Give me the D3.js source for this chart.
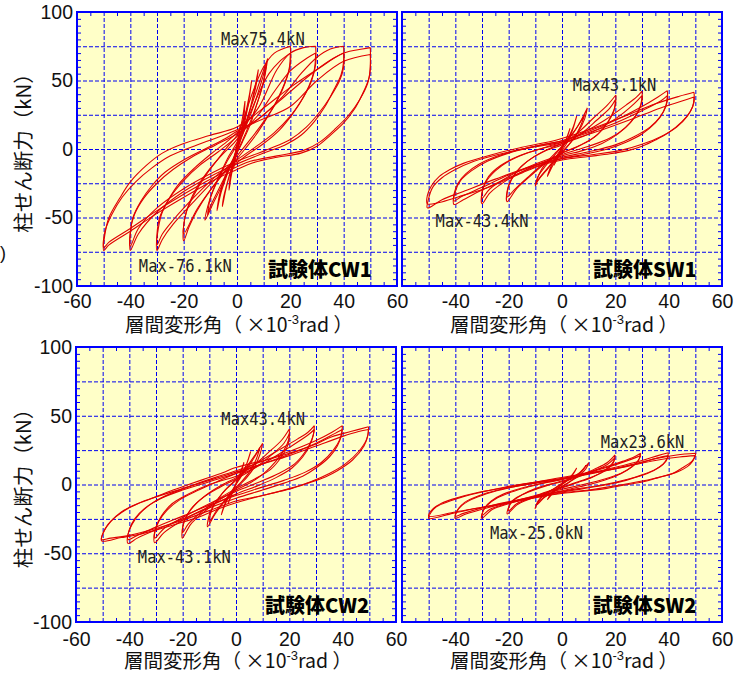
<!DOCTYPE html>
<html><head><meta charset="utf-8">
<script src="https://cdn.jsdelivr.net/npm/d3@7/dist/d3.min.js"></script>
<style>body{margin:0;background:#fff}</style>
</head><body>
<svg id="chart" width="748" height="674"></svg>
<script>
// Specimen names and peak labels
const panelNames = ["試験体CW1", "試験体SW1", "試験体CW2", "試験体SW2"];
const maxLabels = ["Max75.4kN", "Max43.1kN", "Max43.4kN", "Max23.6kN"];
const minLabels = ["Max-76.1kN", "Max-43.4kN", "Max-43.1kN", "Max-25.0kN"];

// Axis ticks
const xTickVals = [-60, -40, -20, 0, 20, 40, 60];
const yTickVals = [-100, -50, 0, 50, 100];
const xGridVals = [-50, -40, -30, -20, -10, 0, 10, 20, 30, 40, 50];
const yGridVals = [-75, -50, -25, 0, 25, 50, 75];
const xMinorVals = [-55, -45, -35, -25, -15, -5, 5, 15, 25, 35, 45, 55];
const yMinorVals = [-95, -90, -85, -80, -70, -65, -60, -55, -45, -40, -35, -30, -20, -15, -10, -5,
                    5, 10, 15, 20, 30, 35, 40, 45, 55, 60, 65, 70, 80, 85, 90, 95];

// Hysteresis loops: [drift angle (x10^-3 rad), shear (kN)]
const cw1Loops = [
  [[50,74],[50,62],[49.5,52],[47,40],[44,29],[40,19],[35,10],[30,2],[24,-3],[15,-6],[6,-10],[0,-15],[-8,-22],[-18,-33],[-30,-47],[-40,-60],[-48,-70],[-50,-74],
   [-49.5,-62],[-48,-50],[-44,-36],[-40,-24],[-34,-12],[-28,-3],[-20,4],[-10,10],[0,16],[10,30],[20,45],[30,58],[40,70],[47,73],[50,74]],
  [[50,69],[50,58],[49,48],[46,36],[42,25],[37,15],[31,5],[25,-1],[15,-5],[5,-9],[0,-13],[-10,-22],[-20,-33],[-30,-45],[-40,-58],[-48,-68],[-50,-72],
   [-49.5,-60],[-47,-48],[-43,-35],[-38,-24],[-32,-14],[-25,-5],[-15,3],[-5,10],[0,14],[10,22],[20,31],[30,50],[40,64],[50,69]],
  [[40,75],[40,64],[39,54],[36,42],[33,31],[29,20],[24,10],[18,3],[10,-3],[0,-11],[-10,-20],[-20,-31],[-30,-46],[-37,-62],[-40,-74],
   [-40,-62],[-39,-50],[-36,-38],[-32,-27],[-27,-17],[-20,-8],[-12,0],[-4,8],[0,13],[8,22],[17,38],[24,55],[30,67],[35,73],[40,75]],
  [[40,70],[40,60],[38.5,50],[35,38],[31,27],[26,16],[20,7],[12,0],[0,-9],[-10,-18],[-20,-29],[-30,-43],[-37,-58],[-40,-71],
   [-40,-60],[-38.5,-48],[-35,-36],[-30,-25],[-24,-15],[-17,-6],[-8,3],[0,11],[10,25],[20,42],[30,58],[36,66],[40,70]],
  [[29.5,75],[29.5,62],[28,50],[25,38],[21,26],[16,14],[10,4],[4,-4],[0,-10],[-8,-22],[-16,-38],[-24,-55],[-28,-66],[-30,-74],
   [-30,-62],[-29,-50],[-26,-38],[-22,-26],[-16,-14],[-10,-4],[-4,5],[0,12],[8,30],[15,58],[20,70],[25,74],[29.5,75]],
  [[29.5,70],[29,58],[27,46],[24,35],[20,24],[14,12],[8,3],[0,-8],[-8,-20],[-16,-35],[-24,-52],[-28,-62],[-30,-70],
   [-29.5,-58],[-28,-46],[-25,-35],[-20,-23],[-14,-12],[-7,-2],[0,9],[8,25],[14,42],[20,57],[26,66],[29.5,70]],
  [[20,75],[20,62],[18,48],[15,35],[11,22],[7,10],[3,0],[0,-7],[-5,-18],[-10,-30],[-15,-45],[-18,-57],[-20,-67],
   [-20,-56],[-19,-46],[-16,-33],[-12,-20],[-7,-7],[-3,3],[0,10],[3,25],[6,42],[10,60],[14,70],[20,75]],
  [[20,70],[19.5,58],[17,44],[14,32],[10,20],[5,7],[0,-5],[-5,-17],[-10,-30],[-15,-44],[-20,-62],
   [-19.5,-50],[-18,-40],[-15,-28],[-10,-14],[-5,-3],[0,7],[4,22],[8,40],[12,55],[16,64],[20,70]],
  [[11.5,66],[10.5,54],[9,42],[7,30],[5,18],[2,5],[0,-3],[-3,-15],[-6,-28],[-9,-40],[-12,-52],
   [-11,-42],[-9,-30],[-6,-17],[-3,-5],[0,5],[3,18],[6,35],[9,52],[11.5,66]],
  [[11,62],[10,50],[8,36],[5,20],[2,6],[0,-2],[-3,-14],[-7,-30],[-10,-42],[-11,-48],
   [-10,-36],[-7,-22],[-4,-10],[0,3],[3,15],[6,30],[9,48],[11,62]],
  [[8,58],[7,45],[5,30],[3,15],[0,0],[-3,-15],[-6,-32],[-7.5,-45],[-6.5,-33],[-4,-18],[-1,-5],[2,10],[5,30],[8,58]],
  [[5.5,50],[4.5,38],[3,24],[1,8],[-1,-6],[-3,-20],[-5,-35],[-5.5,-42],[-4,-28],[-2,-14],[0,-2],[2,12],[4,30],[5.5,50]],
  [[3,35],[2,22],[0.5,8],[-1,-6],[-2.5,-20],[-3,-30],[-2,-18],[-0.5,-6],[1,8],[2.5,22],[3,35]],
  [[1.2,18],[0.5,8],[-0.5,-4],[-1.2,-14],[-0.5,-5],[0.5,6],[1.2,18]]
];

const sw1Loops = [
  [[49.5,41.4],[49.5,34],[48,27],[45,20],[40,12],[35,6.5],[30,2],[25,-1],[18,-3.5],[10,-5.5],[0,-8],[-8,-12],[-15,-17.5],[-27,-27.5],[-39,-35],[-46,-39],[-50.5,-40],
   [-50.5,-34],[-49,-27],[-46,-20],[-42,-15],[-37,-10.5],[-27,-4.5],[-15,1.3],[-2,6.6],[10,14],[23,23.6],[35,33],[44,38.5],[49.5,41.4]],
  [[49.5,38],[49,31],[47,24],[43,16],[37,9],[30,3.5],[22,-1],[12,-4],[0,-7],[-12,-13],[-25,-22],[-37,-31],[-45,-37],[-50.5,-43],
   [-50,-36],[-48.5,-28],[-45,-21],[-40,-15],[-33,-9],[-24,-4],[-12,1],[0,5],[12,12],[25,21],[37,30],[45,35],[49.5,38]],
  [[39.5,42.6],[39.5,35],[38,27],[35,19],[30,11],[24,5],[17,0],[8,-4],[0,-7],[-10,-13],[-20,-21],[-30,-30],[-37,-37],[-40.5,-40.5],
   [-40.5,-33],[-39,-25],[-36,-18],[-31,-11],[-24,-5],[-15,0],[-5,4],[0,6],[10,13],[20,21],[30,31],[36,38],[39.5,42.6]],
  [[39.5,39],[39,32],[37,24],[33,16],[27,9],[20,3],[10,-2],[0,-6],[-10,-12],[-20,-19],[-30,-28],[-38,-35],[-40.5,-38],
   [-40,-31],[-38,-23],[-34,-16],[-28,-9],[-20,-3],[-10,2],[0,6],[10,12],[20,19],[30,28],[37,35],[39.5,39]],
  [[30,42.3],[30,35],[28.5,27],[25.5,19],[21,11],[15,4],[8,-1],[0,-5],[-10,-12],[-20,-22],[-27,-32],[-30,-40],
   [-30,-32],[-28.5,-24],[-25,-16],[-20,-9],[-13,-3],[-5,2],[0,5],[8,12],[16,21],[24,32],[28,38],[30,42.3]],
  [[30,39],[29.5,32],[27.5,24],[24,16],[18,8],[10,2],[0,-4],[-10,-11],[-20,-20],[-27,-29],[-30,-36],
   [-29.5,-28],[-27.5,-20],[-23,-12],[-16,-5],[-8,0],[0,4],[10,11],[20,22],[27,33],[30,39]],
  [[20.2,39.4],[20,32],[18.5,24],[15.5,15],[11,7],[5,1],[0,-3],[-6,-10],[-12,-20],[-17,-29],[-20.6,-38.5],
   [-20.5,-30],[-19,-22],[-15.5,-13],[-10,-5],[-4,1],[0,4],[6,12],[12,23],[17,32],[20.2,39.4]],
  [[20,36],[19.5,28],[17,19],[13,10],[7,3],[0,-3],[-7,-11],[-13,-21],[-18,-30],[-20.5,-35],
   [-20,-27],[-17.5,-18],[-13,-9],[-7,-2],[0,3],[7,11],[13,21],[18,30],[20,36]],
  [[9.5,30],[8.5,22],[6,12],[3,4],[0,-3],[-3,-9],[-6,-16],[-9,-23],[-10,-27],[-9,-20],[-6,-12],[-3,-5],[0,2],[3,9],[6,17],[9.5,30]],
  [[8.5,25],[7,17],[4.5,8],[1.5,1],[-1.5,-5],[-5,-13],[-8,-20],[-9.5,-24],[-8,-16],[-5,-8],[-2,-2],[1,4],[4,11],[8.5,25]],
  [[5.5,24],[4,14],[2,5],[0,-1],[-2,-7],[-4,-14],[-5.5,-20],[-4,-12],[-2,-5],[0,1],[2,7],[4,15],[5.5,24]],
  [[3,15],[1.5,7],[0,1],[-1.5,-5],[-3,-12],[-1.5,-6],[0,0],[1.5,6],[3,15]]
];

const cw2Loops = [
  [[49.7,42],[49.5,36],[48,28],[43.7,17.8],[38,10],[33.7,5.7],[27,1],[21,-2.8],[13,-6.5],[6,-10],[0,-13.3],[-7,-18],[-13.6,-23.4],[-22,-28.5],[-29.8,-33],[-37,-36.5],[-43,-38.6],[-50.4,-41],
   [-50,-36],[-48,-29],[-45,-23.4],[-41,-18],[-36.4,-13.7],[-30,-9],[-23.6,-4],[-17,0.5],[-11,4.5],[-5,8.5],[-1,11.8],[5,15],[11.4,17.8],[17,21],[23.8,25],[30,29.5],[36,34.8],[43,38.5],[49.7,42]],
  [[49.7,40],[49,33],[46,24],[41,15],[35,8],[28,2],[20,-3],[10,-8],[0,-12],[-10,-19],[-20,-26],[-30,-32],[-40,-37],[-47,-39],[-50.4,-40],
   [-49.5,-34],[-47,-27],[-43,-20],[-37,-14],[-30,-9],[-20,-3],[-10,3],[0,9],[10,15],[20,21],[30,28],[40,35],[46,38.5],[49.7,40]],
  [[39.9,42.8],[39.5,36],[38,28],[35,20],[30,12],[25,6],[18,1],[10,-4],[0,-10],[-10,-17],[-20,-25],[-30,-33],[-37,-39],[-40.5,-42.8],
   [-40.5,-36],[-39,-29],[-36,-21],[-31,-13],[-25,-7],[-17,-1],[-8,5],[0,10],[10,17],[20,24],[30,32],[36,38],[39.9,42.8]],
  [[39.9,40],[39,33],[36.5,25],[32,16],[26,9],[18,3],[8,-3],[0,-8],[-10,-15],[-20,-23],[-30,-31],[-37,-37],[-40.5,-40],
   [-40,-33],[-38,-25],[-34,-17],[-28,-10],[-20,-4],[-10,2],[0,8],[10,15],[20,22],[30,30],[37,37],[39.9,40]],
  [[29.4,42.8],[29,36],[27.5,28],[25,20],[21,12],[15,5],[8,-1],[0,-7],[-10,-16],[-20,-26],[-27,-35],[-30.5,-42.3],
   [-30.5,-35],[-29,-27],[-26,-19],[-21,-11],[-14,-4],[-6,3],[0,8],[8,16],[16,25],[23,33],[27,38],[29.4,42.8]],
  [[29.4,40],[28.5,33],[26,24],[22,15],[16,8],[9,2],[0,-5],[-10,-14],[-20,-24],[-27,-32],[-30.5,-39],
   [-30,-31],[-28,-23],[-24,-14],[-18,-7],[-10,0],[0,6],[10,15],[20,27],[27,36],[29.4,40]],
  [[20,40.4],[19.8,33],[18,25],[15,17],[11,9],[6,2],[0,-4],[-6,-11],[-12,-20],[-17,-29],[-20.1,-39],
   [-20,-31],[-18.5,-23],[-15,-14],[-10,-6],[-4,1],[0,5],[6,13],[12,23],[17,32],[20,40.4]],
  [[20,37],[19.5,29],[17,20],[13,11],[7,4],[0,-3],[-7,-11],[-13,-20],[-18,-29],[-20,-35],
   [-19.5,-27],[-17,-18],[-12,-9],[-6,-2],[0,4],[7,12],[13,21],[18,30],[20,37]],
  [[10,30],[9,22],[7,13],[4,5],[1,-1],[-2,-7],[-5,-14],[-8,-22],[-10.7,-30.7],[-10,-22],[-8,-14],[-5,-6],[-2,0],[1,6],[4,13],[7,21],[10,30]],
  [[9,27],[7.5,18],[5,9],[2,2],[-1,-4],[-4,-11],[-7,-18],[-10,-27],[-9,-18],[-6.5,-10],[-3.5,-3],[0,3],[3,9],[6,17],[9,27]],
  [[5.5,24],[4,15],[2,6],[0,0],[-2,-7],[-4,-14],[-5.5,-22],[-4,-13],[-2,-6],[0,0],[2,7],[4,15],[5.5,24]],
  [[3,16],[1.5,8],[0,1],[-1.5,-6],[-3,-14],[-1.5,-7],[0,0],[1.5,7],[3,16]]
];

const sw2Loops = [
  [[50.2,22.7],[49.5,19],[48.6,16.6],[45,12],[41.7,8.2],[36,5],[30.5,2],[23,-0.5],[16.8,-2.8],[8,-4.8],[0.5,-6.4],[-7,-8.5],[-14.5,-11.3],[-23,-14.5],[-32,-17.3],[-41,-21],[-50,-24.6],
   [-49,-20],[-47,-16],[-42,-12],[-37,-8.8],[-29,-5],[-20.8,-1.6],[-11,1.5],[-2,4.5],[7,7.5],[16.8,10.5],[26,14.5],[35.5,19],[43,21.5],[50.2,22.7]],
  [[50,21],[49,17],[47,13],[43,9],[37,5.5],[30,2.5],[20,-1],[10,-4],[0,-6],[-10,-9.5],[-20,-13],[-30,-16.5],[-40,-20],[-50,-23],
   [-48.5,-18],[-45,-13.5],[-40,-10],[-32,-6],[-22,-2.5],[-12,1],[0,4.5],[12,8.5],[24,13],[35,17.5],[44,20],[50,21]],
  [[39.9,23.1],[39.5,19.5],[38,15],[35,11],[30,7],[24,3],[17,0],[8,-3],[0,-5.5],[-10,-9],[-20,-13],[-30,-18],[-36,-21.5],[-40.1,-24.6],
   [-39.5,-20],[-38,-16],[-34,-11],[-28,-6.5],[-20,-2.5],[-10,1],[0,4],[10,8],[20,12.5],[30,17.5],[36,21],[39.9,23.1]],
  [[39.9,21],[39,17],[36.5,12.5],[32,8],[25,4],[16,0],[6,-3],[0,-5],[-10,-8.5],[-20,-12.5],[-30,-17],[-37,-21],[-40,-23],
   [-39,-18],[-36.5,-13],[-31,-8],[-24,-4],[-15,-0.5],[-5,2.5],[0,4],[10,7.5],[20,11.5],[30,16],[37,20],[39.9,21]],
  [[29.5,22.7],[29,19],[27.5,15],[24.5,10.5],[20,6],[14,2],[7,-1.5],[0,-4.5],[-10,-9],[-20,-14],[-26,-18],[-30.1,-24.6],
   [-29.5,-19],[-28,-15],[-24.5,-10],[-19,-5.5],[-12,-1.5],[-5,2],[0,4],[8,8],[16,12.5],[23,17],[27,20],[29.5,22.7]],
  [[29.5,21],[28.5,17],[26,12.5],[22,8],[16,4],[8,0],[0,-3.5],[-10,-8],[-20,-13.5],[-27,-18],[-30,-22.5],
   [-29,-17],[-26.5,-12],[-22,-7],[-15,-2.5],[-7,1],[0,3.5],[8,7.5],[16,12],[24,17],[29.5,21]],
  [[19.9,21.5],[19.5,17.5],[18,13.5],[15,9],[11,5],[6,1.5],[0,-2.5],[-6,-6],[-12,-10.5],[-17,-15],[-20.5,-21.5],
   [-20,-16.5],[-18.5,-12],[-15,-7.5],[-10,-3],[-4,0.5],[0,2.5],[6,6],[12,11],[17,16],[19.9,21.5]],
  [[19.9,19.5],[19,15],[16.5,10.5],[12,6],[6,2],[0,-2],[-6,-5.5],[-12,-10],[-17,-14],[-20,-19],
   [-19.5,-14],[-17,-9.5],[-12,-5],[-6,-1],[0,2],[6,5.5],[12,10],[17,14.5],[19.9,19.5]],
  [[10.1,15.9],[9,11.5],[6.5,6.5],[3,2],[0,-1.5],[-3,-5],[-6.5,-9],[-9,-13],[-10.1,-17.5],[-9,-12],[-6.5,-7],[-3,-3],[0,1],[3,4.5],[6.5,8.5],[10.1,15.9]],
  [[9,14],[7.5,9.5],[5,5],[2,1],[-1,-2.5],[-4,-6],[-7,-10],[-9.5,-15],[-8,-10],[-5,-5.5],[-2,-2],[1,1.5],[4,5],[7,9],[9,14]],
  [[5.5,12],[4,7.5],[2,3],[0,0],[-2,-3.5],[-4,-7.5],[-5.5,-11],[-4,-6.5],[-2,-3],[0,0],[2,3.5],[4,7],[5.5,12]]
];

const allLoops = [cw1Loops, sw1Loops, cw2Loops, sw2Loops];

// Layout
const PW = 320;
const layout = [
  {x0: 77,  y0: 12,  h: 274, yLabels: true,  xFrom: -60, pad: 8,  titleOff: 46},
  {x0: 402, y0: 12,  h: 274, yLabels: false, xFrom: -40, pad: 8,  titleOff: 46},
  {x0: 76,  y0: 347, h: 275, yLabels: true,  xFrom: -60, pad: 10, titleOff: 46},
  {x0: 402, y0: 347, h: 275, yLabels: false, xFrom: -40, pad: 10, titleOff: 46}
];
// label anchors in data units
const maxPos = [[-6, 76], [4, 42.3], [-5.5, 43.3], [14.5, 26.5]];
const minPos = [[-36.8, -89.8], [-47.4, -57], [-36.8, -57], [-27, -39.6]];
const namePos = [[11.6, -93.4], [11.6, -93.4], [10.9, -93.5], [11.5, -93.5]];

const svg = d3.select("#chart");
const BLUE = "#0000f0";
const sans = "'Liberation Sans', Arial, sans-serif";
const jp = "'Noto Sans CJK JP', sans-serif";

layout.forEach((p, i) => {
  const x = d3.scaleLinear().domain([-60, 60]).range([p.x0, p.x0 + PW]);
  const y = d3.scaleLinear().domain([-100, 100]).range([p.y0 + p.h, p.y0]);
  const g = svg.append("g");

  g.append("rect")
    .attr("x", p.x0).attr("y", p.y0).attr("width", PW).attr("height", p.h)
    .attr("fill", "#ffffc8");

  // dashed grid
  g.append("g")
    .attr("transform", `translate(0,${p.y0 + p.h})`)
    .call(d3.axisBottom(x).tickValues(xGridVals).tickSize(-p.h).tickFormat(""))
    .call(a => a.select(".domain").remove());
  g.append("g")
    .attr("transform", `translate(${p.x0},0)`)
    .call(d3.axisLeft(y).tickValues(yGridVals).tickSize(-PW).tickFormat(""))
    .call(a => a.select(".domain").remove());
  g.selectAll(".tick line")
    .attr("stroke", BLUE).attr("stroke-width", 1).attr("stroke-dasharray", "4,2");

  // minor inner ticks on all sides
  const mt = 4;
  const minor = [
    [d3.axisBottom(x).tickValues(xMinorVals), `translate(0,${p.y0 + p.h})`],
    [d3.axisTop(x).tickValues(xMinorVals), `translate(0,${p.y0})`],
    [d3.axisLeft(y).tickValues(yMinorVals), `translate(${p.x0},0)`],
    [d3.axisRight(y).tickValues(yMinorVals), `translate(${p.x0 + PW},0)`]
  ];
  minor.forEach(([ax, tr]) => {
    g.append("g").attr("transform", tr)
      .call(ax.tickSize(-mt).tickFormat(""))
      .call(a => a.select(".domain").remove())
      .selectAll("line").attr("stroke", BLUE).attr("stroke-width", 1);
  });

  // curves
  const clipId = "clip" + i;
  svg.append("clipPath").attr("id", clipId).append("rect")
    .attr("x", p.x0).attr("y", p.y0).attr("width", PW).attr("height", p.h);
  const line = d3.line()
    .x(d => x(d[0])).y(d => y(d[1]))
    .curve(d3.curveCatmullRom.alpha(0.5));
  g.append("g").attr("clip-path", `url(#${clipId})`)
    .selectAll("path").data(allLoops[i]).join("path")
    .attr("d", line)
    .attr("fill", "none").attr("stroke", "#e00000").attr("stroke-width", 1.1)
    .attr("stroke-linejoin", "round");

  // frame
  g.append("rect")
    .attr("x", p.x0).attr("y", p.y0).attr("width", PW).attr("height", p.h)
    .attr("fill", "none").attr("stroke", "#0000ff").attr("stroke-width", 2);

  // tick labels
  const xl = g.append("g")
    .attr("transform", `translate(0,${p.y0 + p.h})`)
    .call(d3.axisBottom(x).tickValues(xTickVals.filter(v => v >= p.xFrom)).tickSize(0).tickPadding(p.pad).tickFormat(d => String(d)));
  xl.select(".domain").remove();
  xl.selectAll("text").attr("font-family", sans).attr("font-size", 19.5).attr("fill", "#111");

  if (p.yLabels) {
    const yl = g.append("g")
      .attr("transform", `translate(${p.x0 - 4},0)`)
      .call(d3.axisLeft(y).tickValues(yTickVals).tickSize(0).tickPadding(0).tickFormat(d => String(d)));
    yl.select(".domain").remove();
    yl.selectAll("text").attr("font-family", sans).attr("font-size", 19.5).attr("fill", "#111");

    g.append("text")
      .attr("transform", `translate(31,${p.y0 + p.h / 2 - 1}) rotate(-90)`)
      .attr("text-anchor", "middle")
      .attr("font-family", jp).attr("font-size", 20.5).attr("fill", "#111")
      .text("柱せん断力（kN）");
  }

  // x axis title
  const xt = g.append("text")
    .attr("x", p.x0 + PW / 2 + 2).attr("y", p.y0 + p.h + p.titleOff)
    .attr("text-anchor", "middle")
    .attr("font-family", jp).attr("font-size", 19.5).attr("fill", "#111");
  xt.append("tspan").text("層間変形角（ ×10");
  xt.append("tspan").attr("dy", -8).attr("font-size", 13).attr("font-family", sans).text("-3");
  xt.append("tspan").attr("dy", 8).text("rad ）");

  // annotations
  const mono = "'DejaVu Sans Mono', monospace";
  [[maxLabels[i], maxPos[i]], [minLabels[i], minPos[i]]].forEach(([txt, pos]) => {
    g.append("text")
      .attr("x", x(pos[0])).attr("y", y(pos[1]))
      .attr("font-family", mono).attr("font-size", 17).attr("fill", "#222")
      .attr("textLength", txt.length * 9.3).attr("lengthAdjust", "spacingAndGlyphs")
      .text(txt);
  });
  g.append("text")
    .attr("x", x(namePos[i][0])).attr("y", y(namePos[i][1]))
    .attr("font-family", jp).attr("font-size", 20).attr("font-weight", 900).attr("fill", "#000")
    .text(panelNames[i]);
});

// stray bracket at left edge
svg.append("text").attr("x", 0).attr("y", 259)
  .attr("font-family", sans).attr("font-size", 18).attr("fill", "#111").text(")");
</script>
</body></html>
